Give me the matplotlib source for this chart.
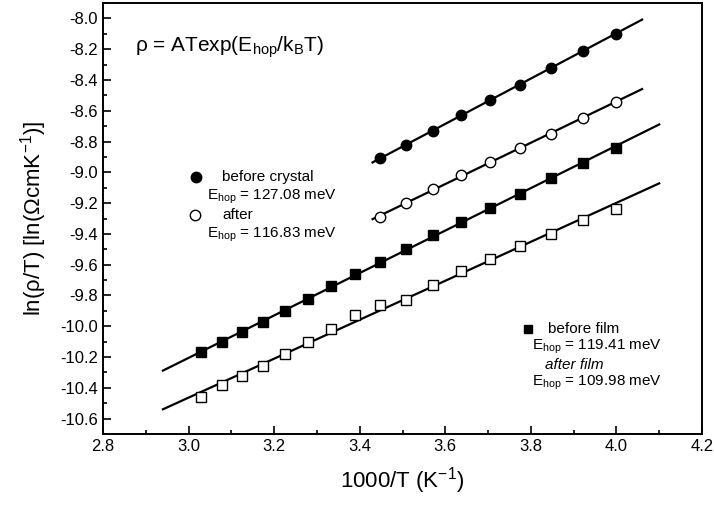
import numpy as np
import matplotlib
matplotlib.use("Agg")
import matplotlib.pyplot as plt
from matplotlib.ticker import MultipleLocator

plt.rcParams['font.family'] = ['Liberation Sans', 'DejaVu Sans']
plt.rcParams['mathtext.fontset'] = 'custom'
plt.rcParams['mathtext.rm'] = 'Liberation Sans'
plt.rcParams['mathtext.it'] = 'Liberation Sans:italic'

# 1000/T values (K^-1)
x_long = [3.030, 3.077, 3.125, 3.175, 3.226, 3.279, 3.333, 3.390, 3.448,
          3.509, 3.571, 3.636, 3.704, 3.774, 3.846, 3.922, 4.000]
x_short = [3.448, 3.509, 3.571, 3.636, 3.704, 3.774, 3.846, 3.922, 4.000]

crystal_before = [-8.91, -8.82, -8.73, -8.63, -8.53, -8.43, -8.32, -8.21, -8.10]
crystal_after = [-9.29, -9.20, -9.11, -9.02, -8.93, -8.84, -8.75, -8.65, -8.54]
film_before = [-10.17, -10.10, -10.04, -9.97, -9.90, -9.82, -9.74, -9.66, -9.58,
               -9.50, -9.41, -9.32, -9.23, -9.14, -9.04, -8.94, -8.84]
film_after = [-10.46, -10.38, -10.32, -10.26, -10.18, -10.10, -10.02, -9.93, -9.86,
              -9.83, -9.73, -9.64, -9.56, -9.48, -9.40, -9.31, -9.24]

# ranges of the fitted lines
fit_short = (3.43, 4.06)
fit_long = (2.94, 4.10)

fig = plt.figure(figsize=(7.14, 5.09), dpi=100)
ax = fig.add_axes([0.1443, 0.1473, 0.8389, 0.8468])

def fitline(x, y, rng):
    k, b = np.polyfit(x, y, 1)
    xx = np.array(rng)
    ax.plot(xx, k * xx + b, color='black', lw=1.6, zorder=2)

fitline(x_short, crystal_before, fit_short)
fitline(x_short, crystal_after, fit_short)
fitline(x_long, film_before, fit_long)
fitline(x_long, film_after, fit_long)

ax.plot(x_short, crystal_before, 'o', ms=7.5, color='black', zorder=3)
ax.plot(x_short, crystal_after, 'o', ms=7.5, mfc='white', mec='black', mew=1.0, zorder=3)
ax.plot(x_long, film_before, 's', ms=7, color='black', zorder=3)
ax.plot(x_long, film_after, 's', ms=7, mfc='white', mec='black', mew=1.0, zorder=3)

ax.set_xlim(2.8, 4.2)
ax.set_ylim(-10.7, -7.9)
ax.xaxis.set_major_locator(MultipleLocator(0.2))
ax.xaxis.set_minor_locator(MultipleLocator(0.1))
ax.yaxis.set_major_locator(MultipleLocator(0.2))
ax.yaxis.set_minor_locator(MultipleLocator(0.1))
ax.xaxis.set_major_formatter(matplotlib.ticker.FormatStrFormatter('%.1f'))
ax.yaxis.set_major_formatter(matplotlib.ticker.FormatStrFormatter('%.1f'))
ax.tick_params(which='both', direction='in', top=False, right=False, labelsize=12, width=1.2)
ax.tick_params(which='major', length=6)
ax.tick_params(which='minor', length=3)
for s in ax.spines.values():
    s.set_linewidth(1.4)

ax.set_xlabel(r'1000/T (K$^{\mathrm{-1}}$)', fontsize=16, labelpad=8)
ax.set_ylabel(r'ln(ρ/T) [ln(ΩcmK$^{\mathrm{-1}}$)]', fontsize=16, labelpad=8)

tr = ax.transAxes
ax.text(0.0534, 0.898, r'ρ = ATexp(E$_{\mathrm{hop}}$/k$_{\mathrm{B}}$T)',
        transform=tr, fontsize=15, va='center')

fs = 11
ax.plot([0.1553], [0.596], 'o', ms=7.5, color='black', transform=tr, clip_on=False)
ax.text(0.1987, 0.596, 'before crystal', transform=tr, fontsize=fs, va='center')
ax.text(0.1736, 0.550, r'E$_{\mathrm{hop}}$ = 127.08 meV', transform=tr, fontsize=fs, va='center')
ax.plot([0.1536], [0.508], 'o', ms=7.5, mfc='white', mec='black', transform=tr, clip_on=False)
ax.text(0.1987, 0.508, 'after', transform=tr, fontsize=fs, va='center')
ax.text(0.1736, 0.4617, r'E$_{\mathrm{hop}}$ = 116.83 meV', transform=tr, fontsize=fs, va='center')

ax.plot([0.7095], [0.2436], 's', ms=6, color='black', transform=tr, clip_on=False)
ax.text(0.743, 0.2436, 'before film', transform=tr, fontsize=fs, va='center')
ax.text(0.716, 0.2019, r'E$_{\mathrm{hop}}$ = 119.41 meV', transform=tr, fontsize=fs, va='center')
ax.text(0.738, 0.160, 'after film', transform=tr, fontsize=fs, va='center', style='italic')
ax.text(0.716, 0.118, r'E$_{\mathrm{hop}}$ = 109.98 meV', transform=tr, fontsize=fs, va='center')

fig.savefig('out.png', dpi=100)
